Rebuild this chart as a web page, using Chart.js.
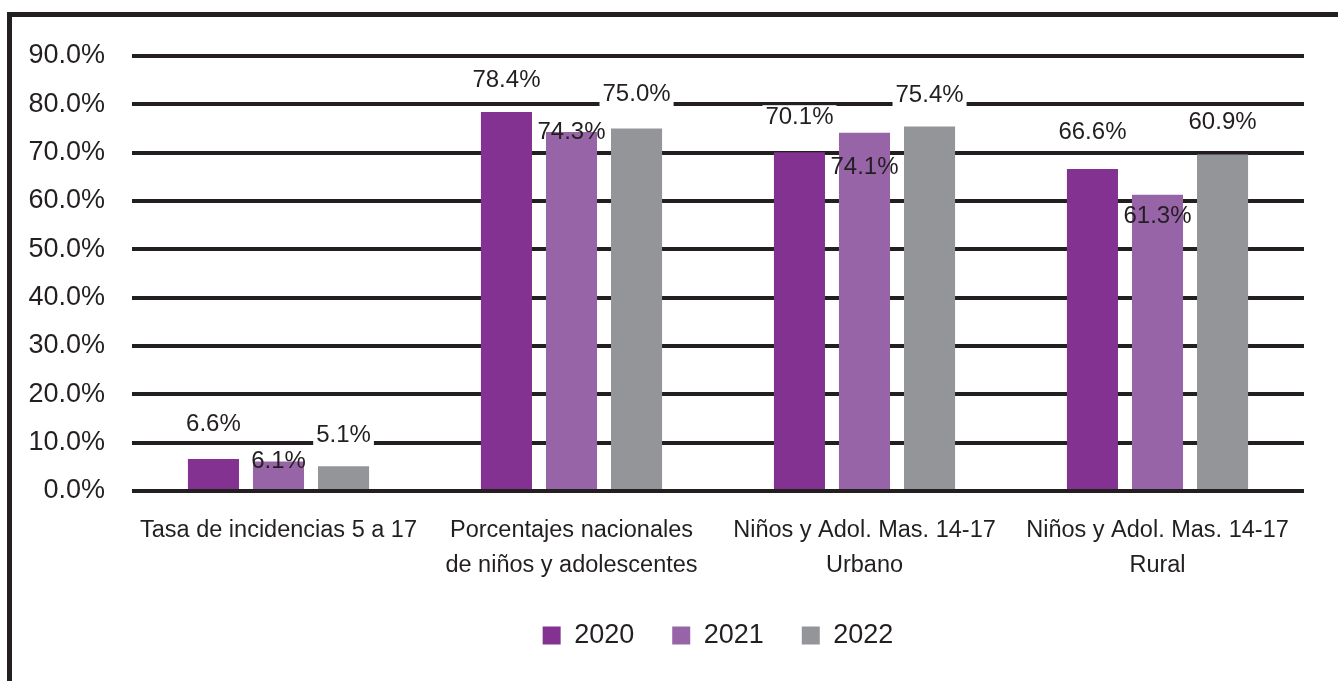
<!DOCTYPE html>
<html lang="es">
  <head>
    <meta charset="UTF-8" />
    <title>Tasa de incidencias 2020-2022</title>
    <script src="https://cdn.jsdelivr.net/npm/chart.js@4.4.1/dist/chart.umd.min.js"></script>
    <style>
      html, body {
        margin: 0;
        padding: 0;
        background: #ffffff;
        overflow: hidden;
      }
      .chart-container {
        position: absolute;
        left: 0;
        top: 0;
        width: 1338px;
        height: 681px;
      }
      .frame {
        position: absolute;
        left: 7px;
        top: 12px;
        width: 1400px;
        height: 700px;
        border-top: 5px solid #231f20;
        border-left: 5px solid #231f20;
        pointer-events: none;
      }
    </style>
  </head>
  <body>
    <div class="chart-container">
      <canvas id="chart"></canvas>
    </div>
    <div class="frame"></div>

    <script>
      // categories (x axis)
      const categories = [
        "Tasa de incidencias 5 a 17",
        ["Porcentajes nacionales", "de niños y adolescentes"],
        ["Niños y Adol. Mas. 14-17", "Urbano"],
        ["Niños y Adol. Mas. 14-17", "Rural"],
      ];
      const years = ["2020", "2021", "2022"];

      // bar heights, in %
      const values2020 = [6.6, 78.4, 70.1, 66.6];
      const values2021 = [6.1, 74.3, 74.1, 61.3];
      const values2022 = [5.1, 75.0, 75.4, 69.6];

      // the numbers printed on the bars (the last 2022 one differs from its bar)
      const printed2020 = [6.6, 78.4, 70.1, 66.6];
      const printed2021 = [6.1, 74.3, 74.1, 61.3];
      const printed2022 = [5.1, 75.0, 75.4, 60.9];

      const yTicks = [0, 10, 20, 30, 40, 50, 60, 70, 80, 90];

      const colors = ["#833291", "#9864a8", "#939598"];
      const ink = "#231f20";
      const sans = '"Liberation Sans", Arial, sans-serif';

      // label placement relative to the bar top (px), per series
      const labelNudge = [
        [-35, -32, -35, -37],
        [0, 0, 35, 22],
        [-31, -34, -31, -32],
      ];

      const valueLabels = {
        id: "valueLabels",
        afterDatasetsDraw(chart) {
          const ctx = chart.ctx;
          ctx.save();
          ctx.font = "24px " + sans;
          ctx.textAlign = "center";
          ctx.textBaseline = "middle";
          chart.data.datasets.forEach((ds, i) => {
            chart.getDatasetMeta(i).data.forEach((bar, j) => {
              const txt = ds.printed[j].toFixed(1) + "%";
              const y = bar.y + labelNudge[i][j];
              if (labelNudge[i][j] < 0) {
                const w = ctx.measureText(txt).width + 6;
                ctx.fillStyle = "#ffffff";
                ctx.fillRect(bar.x - w / 2, y - 12, w, 24);
              }
              ctx.fillStyle = ink;
              ctx.fillText(txt, bar.x, y);
            });
          });
          ctx.restore();
        },
      };

      const seriesValues = [values2020, values2021, values2022];
      const seriesPrinted = [printed2020, printed2021, printed2022];

      new Chart(document.getElementById("chart"), {
        type: "bar",
        data: {
          labels: categories,
          datasets: years.map((y, i) => ({
            label: y,
            data: seriesValues[i],
            printed: seriesPrinted[i],
            backgroundColor: colors[i],
            borderWidth: 0,
            categoryPercentage: 0.666,
            barPercentage: 0.785,
          })),
        },
        options: {
          responsive: true,
          maintainAspectRatio: false,
          animation: false,
          layout: {
            padding: { left: 0, right: 34, top: 56, bottom: 22 },
          },
          scales: {
            x: {
              grid: { display: false, drawTicks: false },
              border: { display: false },
              ticks: {
                color: ink,
                padding: 22,
                font: { family: sans, size: 23.5, lineHeight: 1.5 },
                maxRotation: 0,
                autoSkip: false,
              },
              afterFit(scale) {
                scale.height = 93;
              },
            },
            y: {
              min: 0,
              max: 90,
              afterBuildTicks(scale) {
                scale.ticks = yTicks.map((v) => ({ value: v }));
              },
              grid: {
                color: ink,
                lineWidth: 4,
                drawTicks: false,
              },
              border: { display: false },
              ticks: {
                color: ink,
                padding: 27,
                font: { family: sans, size: 27 },
                callback: (v) => v.toFixed(1) + "%",
              },
              afterFit(scale) {
                scale.width = 132;
              },
            },
          },
          plugins: {
            legend: {
              position: "bottom",
              fullSize: false,
              labels: {
                color: ink,
                boxWidth: 18,
                boxHeight: 18,
                padding: 38,
                font: { family: sans, size: 27 },
              },
            },
            tooltip: { enabled: false },
          },
        },
        plugins: [valueLabels],
      });
    </script>
  </body>
</html>
